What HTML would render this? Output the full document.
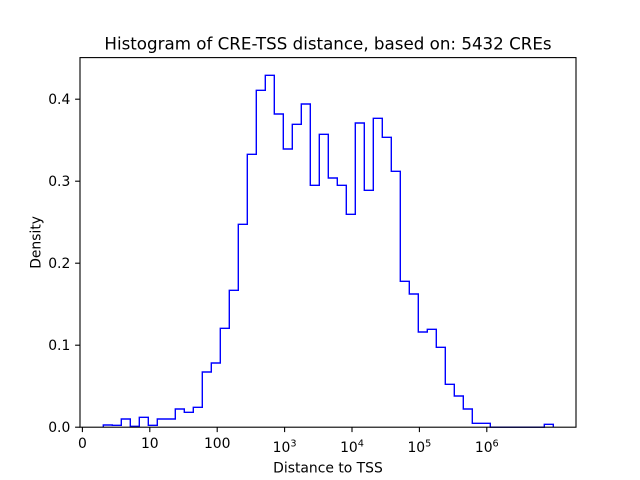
<!DOCTYPE html>
<html>
<head>
<meta charset="utf-8">
<style>
  html, body { margin: 0; padding: 0; background: #ffffff; }
  svg { display: block; }
  text { font-family: "DejaVu Sans", "Liberation Sans", sans-serif; fill: #000; }
</style>
</head>
<body>
<svg width="640" height="480" viewBox="0 0 640 480" xmlns="http://www.w3.org/2000/svg">
  <rect x="0" y="0" width="640" height="480" fill="#ffffff"/>

  <!-- histogram step outline -->
  <path d="M103.3,427.2 V425 H112.3 V425.3 H121.3 V419 H130.3 V426.3 H139.3 V417.3 H148.3 V425.3 H157.3 V419 H175.3 V409 H184.3 V412.3 H193.3 V407.3 H202.3 V372 H211.3 V363 H220.3 V328.3 H229.3 V290.3 H238.3 V224.3 H247.3 V154.3 H256.3 V90.3 H265.3 V75.3 H274.3 V114 H283.3 V149 H292.3 V124.3 H301.3 V104 H310.3 V185.3 H319.3 V134.3 H328.3 V178 H337.3 V185.3 H346.3 V214.3 H355.3 V123 H364.3 V190.3 H373.3 V118.3 H382.3 V137.3 H391.3 V171.3 H400.3 V281.3 H409.3 V294 H418.3 V332 H427.3 V329.3 H436.3 V347.3 H445.3 V384.3 H454.3 V396 H463.3 V409 H472.3 V423.3 H490.3 V427.2 H544.3 V424.3 H553.3 V427.2"
        fill="none" stroke="#0000ff" stroke-width="1.4" stroke-linejoin="miter"/>

  <!-- axes frame -->
  <rect x="80" y="57.6" width="496" height="369.6" fill="none" stroke="#000" stroke-width="1.1"/>

  <!-- y ticks -->
  <g stroke="#000" stroke-width="1.1">
    <line x1="75.1" y1="427.2" x2="80" y2="427.2"/>
    <line x1="75.1" y1="345.2" x2="80" y2="345.2"/>
    <line x1="75.1" y1="263.2" x2="80" y2="263.2"/>
    <line x1="75.1" y1="181.2" x2="80" y2="181.2"/>
    <line x1="75.1" y1="99.2" x2="80" y2="99.2"/>
  </g>
  <g font-size="13.9" text-anchor="end">
    <text x="70.3" y="432.2">0.0</text>
    <text x="70.3" y="350.2">0.1</text>
    <text x="70.3" y="268.2">0.2</text>
    <text x="70.3" y="186.2">0.3</text>
    <text x="70.3" y="104.2">0.4</text>
  </g>

  <!-- x ticks -->
  <g stroke="#000" stroke-width="1.1">
    <line x1="82.4" y1="427.2" x2="82.4" y2="432.1"/>
    <line x1="149.8" y1="427.2" x2="149.8" y2="432.1"/>
    <line x1="217.2" y1="427.2" x2="217.2" y2="432.1"/>
    <line x1="284.6" y1="427.2" x2="284.6" y2="432.1"/>
    <line x1="352.0" y1="427.2" x2="352.0" y2="432.1"/>
    <line x1="419.4" y1="427.2" x2="419.4" y2="432.1"/>
    <line x1="486.8" y1="427.2" x2="486.8" y2="432.1"/>
  </g>
  <g font-size="13.9" text-anchor="middle">
    <text x="82.4" y="448">0</text>
    <text x="149.8" y="448">10</text>
    <text x="217.2" y="448">100</text>
    <text x="284.6" y="452">10<tspan font-size="9.7" dy="-5.3">3</tspan></text>
    <text x="352.0" y="452">10<tspan font-size="9.7" dy="-5.3">4</tspan></text>
    <text x="419.4" y="452">10<tspan font-size="9.7" dy="-5.3">5</tspan></text>
    <text x="486.8" y="452">10<tspan font-size="9.7" dy="-5.3">6</tspan></text>
  </g>

  <!-- axis labels -->
  <text x="328" y="472.3" font-size="13.9" text-anchor="middle">Distance to TSS</text>
  <text x="0" y="0" font-size="13.9" text-anchor="middle" transform="translate(40.5,242.4) rotate(-90)">Density</text>

  <!-- title -->
  <text x="328" y="49.3" font-size="16.7" text-anchor="middle">Histogram of CRE-TSS distance, based on: 5432 CREs</text>
</svg>
</body>
</html>
